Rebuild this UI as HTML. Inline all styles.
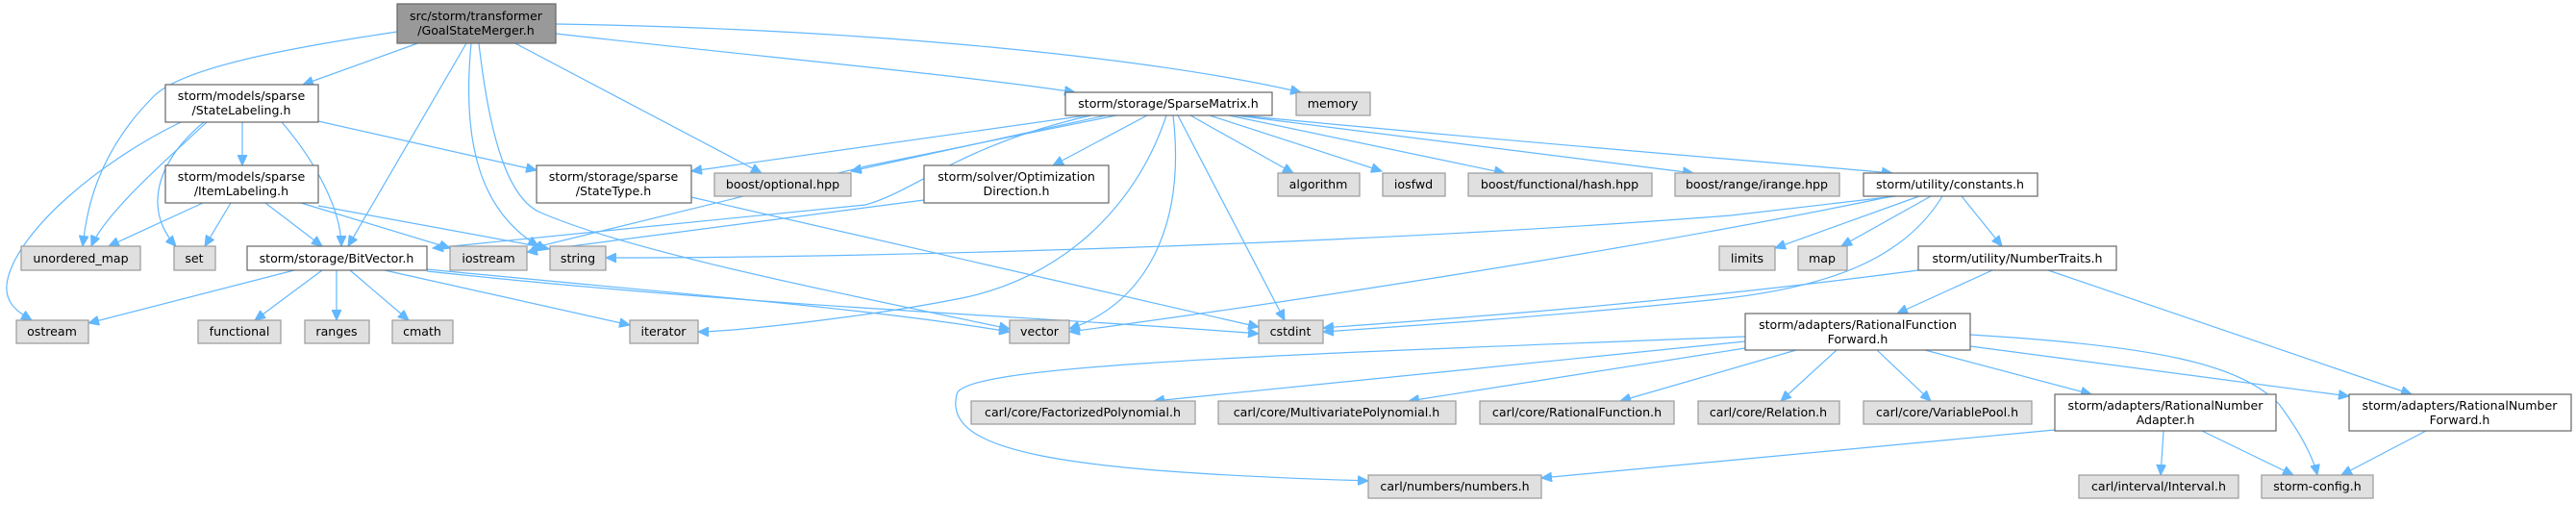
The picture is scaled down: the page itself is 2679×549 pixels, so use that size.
<!DOCTYPE html>
<html><head><meta charset="utf-8"><style>
html,body{margin:0;padding:0;background:#fff;}
svg{display:block;}
text{font-family:"DejaVu Sans","Liberation Sans",sans-serif;font-size:12.6px;fill:#000;text-anchor:middle;}
.w{fill:#fff;stroke:#666;stroke-width:1.2;}
.g{fill:#e0e0e0;stroke:#999;stroke-width:1.2;}
.r{fill:#999;stroke:#666;stroke-width:1.2;}
path{fill:none;stroke:#63b8ff;stroke-width:1.2;}
</style></head><body>
<svg width="2679" height="549" viewBox="0 0 2679 549" xmlns="http://www.w3.org/2000/svg">
<defs><marker id="a" markerUnits="userSpaceOnUse" markerWidth="12" markerHeight="10" refX="11" refY="5" orient="auto"><polygon points="0,0 11,5 0,10" fill="#63b8ff" stroke="#63b8ff"/></marker></defs>
<g marker-end="url(#a)">
<!-- GSM -->
<path d="M413,33 C300,50 190,70 160,100 C100,160 90,220 86,256"/>
<path d="M440,43 L315,88"/>
<path d="M485,45 L362,256"/>
<path d="M490,45 C480,150 500,220 560,256"/>
<path d="M498,45 C510,150 530,205 560,220 C650,260 850,300 1050,342"/>
<path d="M532,43 L792,180"/>
<path d="M578,35 C800,60 1000,78 1118,96"/>
<path d="M578,25 C900,30 1200,60 1353,96"/>
<!-- StateLabeling -->
<path d="M188,127 C100,170 20,240 8,290 C2,315 20,325 33,333"/>
<path d="M215,127 C180,160 110,220 95,256"/>
<path d="M212,127 C160,170 150,220 183,256"/>
<path d="M252,127 L252,172"/>
<path d="M293,127 C330,170 355,220 355,256"/>
<path d="M331,126 L558,177"/>
<!-- ItemLabeling -->
<path d="M211,211 L113,256"/>
<path d="M240,211 L213,256"/>
<path d="M276,211 L335,256"/>
<path d="M313,211 L468,258"/>
<path d="M331,214 L570,258"/>
<!-- StateType -->
<path d="M719,205 L1309,340"/>
<!-- BitVector -->
<path d="M306,281 L92,336"/>
<path d="M335,281 L265,333"/>
<path d="M350,281 L350,333"/>
<path d="M364,281 L425,333"/>
<path d="M400,281 L655,338"/>
<path d="M444,280 C700,305 900,320 1050,345"/>
<path d="M444,282 C800,320 1100,330 1309,347"/>
<!-- SparseMatrix -->
<path d="M1130,120 L719,178"/>
<path d="M1150,120 L885,178"/>
<path d="M1135,120 C1000,150 950,200 900,213 L450,258"/>
<path d="M1161,120 L900,173 L553,258"/>
<path d="M1193,120 L1095,172"/>
<path d="M1213,120 C1180,220 1100,290 1000,310 C900,330 760,345 726,345"/>
<path d="M1220,120 C1235,250 1180,320 1112,342"/>
<path d="M1225,120 L1336,333"/>
<path d="M1238,120 L1345,180"/>
<path d="M1258,120 L1437,178"/>
<path d="M1278,120 L1565,180"/>
<path d="M1285,120 L1761,180"/>
<path d="M1290,120 C1600,150 1800,165 1968,180"/>
<!-- OptDir -->
<path d="M961,208 L548,262"/>
<!-- constants -->
<path d="M1972,204 L1800,224 C1400,255 900,268 630,268"/>
<path d="M1968,204 C1700,260 1300,320 1112,345"/>
<path d="M2020,204 C1980,270 1900,300 1779,312 C1600,330 1450,340 1376,345"/>
<path d="M1996,204 L1846,258"/>
<path d="M2008,204 L1915,256"/>
<path d="M2040,204 L2082,256"/>
<!-- NumberTraits -->
<path d="M1995,281 C1700,320 1450,335 1376,341"/>
<path d="M2072,281 L1973,326"/>
<path d="M2130,281 L2508,410"/>
<!-- RFF -->
<path d="M1815,350 C1300,370 1000,380 995,410 C980,470 1100,490 1423,500"/>
<path d="M1815,355 L1200,417"/>
<path d="M1815,362 L1465,417"/>
<path d="M1868,364 L1685,417"/>
<path d="M1910,364 L1852,417"/>
<path d="M1952,364 L2008,417"/>
<path d="M2002,364 L2175,410"/>
<path d="M2049,360 L2443,412"/>
<path d="M2049,348 C2250,360 2330,380 2370,420 C2400,460 2408,485 2410,494"/>
<!-- RNA / RNF -->
<path d="M2137,447 L1603,497"/>
<path d="M2250,448 L2247,494"/>
<path d="M2290,448 L2385,494"/>
<path d="M2523,448 L2435,494"/>
</g>
<!-- nodes -->
<rect class="r" x="413" y="4" width="165" height="41"/><text x="495" y="21">src/storm/transformer</text><text x="495" y="36">/GoalStateMerger.h</text>
<rect class="w" x="172" y="88" width="159" height="39"/><text x="251" y="104">storm/models/sparse</text><text x="251" y="119">/StateLabeling.h</text>
<rect class="w" x="1108" y="96" width="215" height="24"/><text x="1215" y="112">storm/storage/SparseMatrix.h</text>
<rect class="g" x="1348" y="96" width="77" height="24"/><text x="1386" y="112">memory</text>
<rect class="w" x="172" y="172" width="159" height="39"/><text x="251" y="188">storm/models/sparse</text><text x="251" y="203">/ItemLabeling.h</text>
<rect class="w" x="558" y="172" width="161" height="39"/><text x="638" y="188">storm/storage/sparse</text><text x="638" y="203">/StateType.h</text>
<rect class="g" x="743" y="180" width="142" height="24"/><text x="814" y="196">boost/optional.hpp</text>
<rect class="w" x="961" y="172" width="192" height="39"/><text x="1057" y="188">storm/solver/Optimization</text><text x="1057" y="203">Direction.h</text>
<rect class="g" x="1329" y="180" width="85" height="24"/><text x="1371" y="196">algorithm</text>
<rect class="g" x="1438" y="180" width="65" height="24"/><text x="1470" y="196">iosfwd</text>
<rect class="g" x="1527" y="180" width="191" height="24"/><text x="1622" y="196">boost/functional/hash.hpp</text>
<rect class="g" x="1742" y="180" width="171" height="24"/><text x="1827" y="196">boost/range/irange.hpp</text>
<rect class="w" x="1938" y="180" width="181" height="24"/><text x="2028" y="196">storm/utility/constants.h</text>
<rect class="g" x="22" y="256" width="124" height="25"/><text x="84" y="273">unordered_map</text>
<rect class="g" x="181" y="256" width="43" height="25"/><text x="202" y="273">set</text>
<rect class="w" x="257" y="256" width="187" height="25"/><text x="350" y="273">storm/storage/BitVector.h</text>
<rect class="g" x="468" y="256" width="80" height="25"/><text x="508" y="273">iostream</text>
<rect class="g" x="572" y="256" width="58" height="25"/><text x="601" y="273">string</text>
<rect class="g" x="1788" y="256" width="58" height="25"/><text x="1817" y="273">limits</text>
<rect class="g" x="1870" y="256" width="51" height="25"/><text x="1895" y="273">map</text>
<rect class="w" x="1995" y="256" width="206" height="25"/><text x="2098" y="273">storm/utility/NumberTraits.h</text>
<rect class="g" x="17" y="333" width="75" height="24"/><text x="54" y="349">ostream</text>
<rect class="g" x="206" y="333" width="86" height="24"/><text x="249" y="349">functional</text>
<rect class="g" x="317" y="333" width="67" height="24"/><text x="350" y="349">ranges</text>
<rect class="g" x="408" y="333" width="63" height="24"/><text x="439" y="349">cmath</text>
<rect class="g" x="655" y="333" width="71" height="24"/><text x="690" y="349">iterator</text>
<rect class="g" x="1050" y="333" width="62" height="24"/><text x="1081" y="349">vector</text>
<rect class="g" x="1309" y="333" width="67" height="24"/><text x="1342" y="349">cstdint</text>
<rect class="w" x="1815" y="326" width="234" height="38"/><text x="1932" y="342">storm/adapters/RationalFunction</text><text x="1932" y="357">Forward.h</text>
<rect class="g" x="1010" y="417" width="233" height="24"/><text x="1126" y="433">carl/core/FactorizedPolynomial.h</text>
<rect class="g" x="1267" y="417" width="247" height="24"/><text x="1390" y="433">carl/core/MultivariatePolynomial.h</text>
<rect class="g" x="1539" y="417" width="202" height="24"/><text x="1640" y="433">carl/core/RationalFunction.h</text>
<rect class="g" x="1766" y="417" width="147" height="24"/><text x="1839" y="433">carl/core/Relation.h</text>
<rect class="g" x="1938" y="417" width="175" height="24"/><text x="2025" y="433">carl/core/VariablePool.h</text>
<rect class="w" x="2137" y="410" width="230" height="38"/><text x="2252" y="426">storm/adapters/RationalNumber</text><text x="2252" y="441">Adapter.h</text>
<rect class="w" x="2443" y="410" width="231" height="38"/><text x="2558" y="426">storm/adapters/RationalNumber</text><text x="2558" y="441">Forward.h</text>
<rect class="g" x="1423" y="494" width="180" height="24"/><text x="1513" y="510">carl/numbers/numbers.h</text>
<rect class="g" x="2162" y="494" width="166" height="24"/><text x="2245" y="510">carl/interval/Interval.h</text>
<rect class="g" x="2352" y="494" width="116" height="24"/><text x="2410" y="510">storm-config.h</text>
</svg>
</body></html>
